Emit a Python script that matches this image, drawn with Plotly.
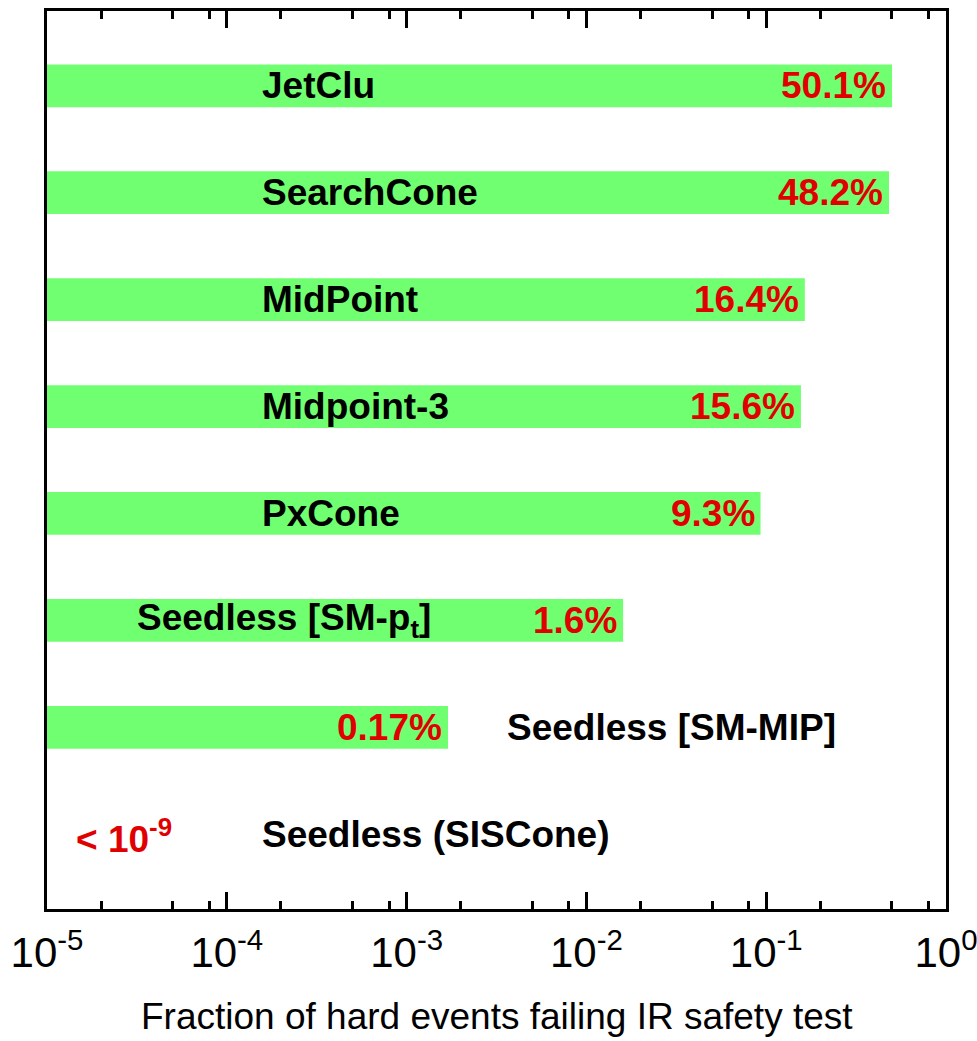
import numpy as np
import plotly.graph_objects as go

# Jet algorithms and the fraction of hard events failing the IR safety test
algorithms = ["JetClu", "SearchCone", "MidPoint", "Midpoint-3", "PxCone",
              "Seedless [SM-p<sub>t</sub>]", "Seedless [SM-MIP]", "Seedless (SISCone)"]
fractions = [0.501, 0.482, 0.164, 0.156, 0.093, 0.016, 0.0017, None]
value_labels = ["50.1%", "48.2%", "16.4%", "15.6%", "9.3%", "1.6%", "0.17%",
                "< 10<sup>-9</sup>"]

tick_vals = [1e-5, 1e-4, 1e-3, 1e-2, 1e-1, 1e0]
tick_text = ["10<sup>-5</sup>", "10<sup>-4</sup>", "10<sup>-3</sup>",
             "10<sup>-2</sup>", "10<sup>-1</sup>", "10<sup>0</sup>"]

# horizontal placement (log10 of x) of the algorithm names
name_pos = [-3.815, -3.815, -3.815, -3.815, -3.815, -4.51, -2.45, -3.815]
LOW_ROW_VALUE_POS = -4.85  # left edge of the "< 10^-9" label

rows = list(range(len(algorithms)))
GREEN = "rgb(112,255,112)"
RED = "rgb(224,0,0)"
FONT = "Liberation Sans, Arial, sans-serif"
LABEL_SIZE = 37

fig = go.Figure()
fig.add_trace(go.Bar(
    y=rows,
    x=[f if f is not None else np.nan for f in fractions],
    orientation="h",
    width=0.4,
    marker=dict(color=GREEN, line=dict(width=0)),
    hoverinfo="skip",
))

annotations = []
for r, name, frac, vlab, npos in zip(rows, algorithms, fractions, value_labels, name_pos):
    annotations.append(dict(
        x=npos, y=r, xref="x", yref="y", text=f"<b>{name}</b>",
        showarrow=False, xanchor="left", yanchor="middle",
        font=dict(family=FONT, size=LABEL_SIZE, color="black"),
    ))
    if frac is not None:
        annotations.append(dict(
            x=np.log10(frac), y=r, xref="x", yref="y", text=f"<b>{vlab}</b>",
            showarrow=False, xanchor="right", yanchor="middle", xshift=-4,
            font=dict(family=FONT, size=LABEL_SIZE, color=RED),
        ))
    else:
        annotations.append(dict(
            x=LOW_ROW_VALUE_POS, y=r, xref="x", yref="y", text=f"<b>{vlab}</b>",
            showarrow=False, xanchor="left", yanchor="middle", yshift=-2,
            font=dict(family=FONT, size=LABEL_SIZE, color=RED),
        ))

# axis title drawn below the tick labels
annotations.append(dict(
    x=0.5, y=-0.12, xref="paper", yref="paper", yanchor="middle",
    text="Fraction of hard events failing IR safety test", showarrow=False,
    font=dict(family=FONT, size=37, color="black"),
))

fig.update_layout(
    width=977, height=1041,
    margin=dict(l=47, r=31, t=11, b=132, autoexpand=False),
    plot_bgcolor="white", paper_bgcolor="white",
    showlegend=False,
    annotations=annotations,
    font=dict(family=FONT, color="black"),
    xaxis=dict(
        type="log", range=[-5, 0], automargin=False,
        tickmode="array", tickvals=tick_vals, ticktext=tick_text,
        ticklabeloverflow="allow", ticklabelstandoff=5,
        ticks="inside", ticklen=17, tickwidth=2.5, tickcolor="black",
        minor=dict(tickmode="array",
                   tickvals=[m * 10.0 ** e for e in range(-5, 0) for m in (2, 5, 8)],
                   ticks="inside", ticklen=8, tickwidth=2.5, tickcolor="black"),
        showline=True, linecolor="black", linewidth=3, mirror="ticks",
        showgrid=False, zeroline=False,
        tickfont=dict(family=FONT, size=42, color="black"),
    ),
    yaxis=dict(
        range=[7.7, -0.7], automargin=False,
        showticklabels=False, ticks="",
        showline=True, linecolor="black", linewidth=3, mirror=True,
        showgrid=False, zeroline=False,
    ),
)

fig.write_html("out.html")
